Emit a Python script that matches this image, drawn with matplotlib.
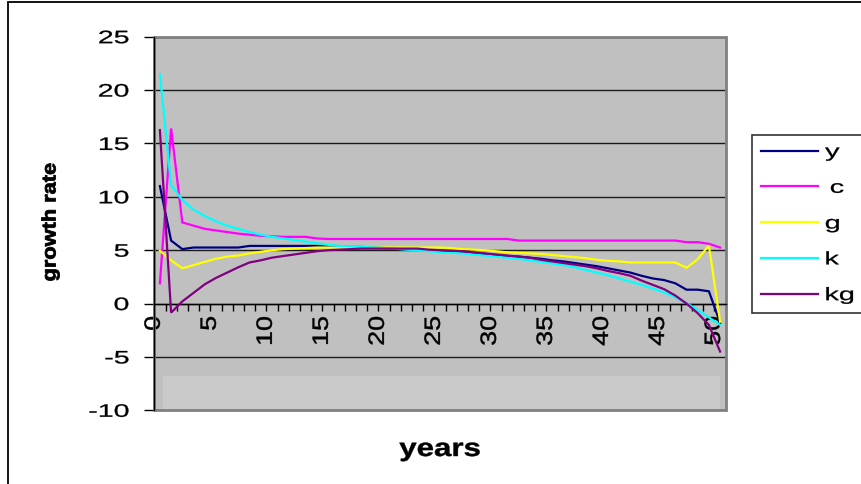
import numpy as np
import matplotlib
matplotlib.use('Agg')
import matplotlib.pyplot as plt
from matplotlib.patheffects import AbstractPathEffect
from matplotlib.transforms import Affine2D
from matplotlib.patches import Rectangle

# ---------------- data ----------------
years = list(range(51))

y_vals = [11.0, 5.9, 5.1, 5.25, 5.25, 5.25, 5.25, 5.25, 5.4, 5.4,
          5.4, 5.4, 5.4, 5.4, 5.4, 5.4, 5.35, 5.3, 5.3, 5.25,
          5.2, 5.15, 5.1, 5.05, 5.0, 4.95, 4.9, 4.85, 4.75, 4.65,
          4.55, 4.45, 4.4, 4.3, 4.2, 4.05, 3.95, 3.8, 3.65, 3.5,
          3.3, 3.1, 2.9, 2.6, 2.35, 2.2, 1.9, 1.3, 1.3, 1.15, -1.8]

c_vals = [1.9, 16.4, 7.6, 7.3, 7.0, 6.85, 6.7, 6.55, 6.45, 6.35,
          6.3, 6.25, 6.25, 6.25, 6.1, 6.05, 6.05, 6.05, 6.05, 6.05,
          6.05, 6.05, 6.05, 6.05, 6.05, 6.05, 6.05, 6.05, 6.05, 6.05,
          6.05, 6.05, 5.9, 5.9, 5.9, 5.9, 5.9, 5.9, 5.9, 5.9,
          5.9, 5.9, 5.9, 5.9, 5.9, 5.9, 5.9, 5.75, 5.75, 5.6, 5.25]

g_vals = [4.95, 4.05, 3.3, 3.6, 3.9, 4.2, 4.4, 4.5, 4.7, 4.85,
          5.0, 5.1, 5.15, 5.2, 5.25, 5.25, 5.25, 5.25, 5.25, 5.25,
          5.25, 5.25, 5.25, 5.25, 5.25, 5.25, 5.2, 5.1, 5.05, 5.0,
          4.9, 4.8, 4.75, 4.7, 4.65, 4.55, 4.45, 4.35, 4.25, 4.1,
          4.0, 3.95, 3.85, 3.85, 3.85, 3.85, 3.85, 3.35, 4.15, 5.45, -1.7]

k_vals = [21.5, 11.1, 9.7, 8.8, 8.2, 7.7, 7.3, 7.0, 6.7, 6.45,
          6.25, 6.1, 5.95, 5.8, 5.65, 5.5, 5.4, 5.35, 5.3, 5.25,
          5.2, 5.15, 5.05, 5.0, 4.9, 4.8, 4.75, 4.7, 4.6, 4.5,
          4.4, 4.3, 4.2, 4.05, 3.9, 3.75, 3.6, 3.4, 3.15, 2.9,
          2.65, 2.35, 2.05, 1.75, 1.4, 1.05, 0.6, 0.05, -0.6, -1.3, -2.0]

kg_vals = [16.25, -0.85, 0.2, 1.0, 1.8, 2.4, 2.9, 3.4, 3.85, 4.05,
           4.3, 4.45, 4.6, 4.75, 4.9, 5.0, 5.05, 5.1, 5.15, 5.15,
           5.15, 5.15, 5.15, 5.15, 5.05, 5.0, 4.95, 4.9, 4.8, 4.7,
           4.6, 4.5, 4.4, 4.3, 4.1, 3.95, 3.8, 3.65, 3.5, 3.3,
           3.05, 2.85, 2.6, 2.15, 1.75, 1.35, 0.75, 0.0, -0.9, -2.0, -4.5]

series_names = ['y', ' c', 'g', 'k', 'kg']
series_colors = ['#000080', '#FF00FF', '#FFFF00', '#00FFFF', '#800080']

x_tick_values = list(range(0, 51, 5))
x_tick_labels = [str(v) for v in x_tick_values]
y_tick_values = list(range(-10, 26, 5))
y_tick_labels = [str(v) for v in y_tick_values]


# ---------------- text stretching effect (Excel-like wide text) ----------------
class Stretch(AbstractPathEffect):
    def __init__(self, sx=1.0, sy=1.0, fx=0.5, fy=0.5, lw=0.0):
        super().__init__()
        self.sx, self.sy, self.fx, self.fy, self.lw = sx, sy, fx, fy, lw

    def draw_path(self, renderer, gc, tpath, affine, rgbFace=None):
        ext = tpath.get_extents()
        cx = ext.x0 + self.fx * ext.width
        cy = ext.y0 + self.fy * ext.height
        t = Affine2D().translate(-cx, -cy).scale(self.sx, self.sy).translate(cx, cy) + affine
        gc0 = renderer.new_gc()
        gc0.copy_properties(gc)
        if self.lw > 0 and rgbFace is not None:
            gc0.set_linewidth(self.lw)
            gc0.set_foreground(rgbFace)
            gc0.set_joinstyle('round')
        renderer.draw_path(gc0, tpath, t, rgbFace)
        gc0.restore()


plt.rcParams['font.family'] = ['Liberation Sans', 'DejaVu Sans']

W, H = 862, 484
fig = plt.figure(figsize=(W / 100, H / 100), dpi=100)
fig.patch.set_facecolor('white')

ax = fig.add_axes([154.3 / W, 1 - 410.3 / H, (725.7 - 154.3) / W, (410.3 - 36.7) / H])
ax.set_facecolor('#C0C0C0')
ax.set_xlim(0, 51)
ax.set_ylim(-10, 25)

# lighter band near the bottom of the plot area
ax.add_patch(Rectangle((0.015, 0.0), 0.975, 0.092, transform=ax.transAxes,
                       facecolor='#CACACA', edgecolor='none', zorder=1.2))

xs = np.array(years) + 0.5
for vals, name, col in zip([y_vals, c_vals, g_vals, k_vals, kg_vals], series_names, series_colors):
    ax.plot(xs, vals, color=col, lw=1.6, label=name, zorder=3, solid_joinstyle='miter')

# grid
ax.set_yticks(y_tick_values, y_tick_labels)
ax.yaxis.grid(True, color='#1a1a1a', lw=1.0)
ax.set_axisbelow(True)

# border of plot area
ax.add_patch(Rectangle((0, 0), 1, 1, transform=ax.transAxes, fill=False,
                       edgecolor='#808080', lw=2.0, zorder=2.4, clip_on=False))
ax.spines['top'].set_visible(False)
ax.spines['right'].set_visible(False)
ax.spines['left'].set_color('black')
ax.spines['left'].set_linewidth(1.0)
ax.spines['left'].set_zorder(2.6)
ax.spines['bottom'].set_position(('data', 0))
ax.spines['bottom'].set_color('black')
ax.spines['bottom'].set_linewidth(1.0)

ax.set_xticks(x_tick_values, x_tick_labels)
ax.set_xticks(list(range(0, 52)), minor=True)
ax.tick_params(axis='x', which='both', direction='out', length=5, width=1,
               color='black', labelsize=16, pad=4)
ax.tick_params(axis='x', which='major', labelrotation=90)
ax.tick_params(axis='y', direction='out', length=7.2, width=1, color='black',
               labelsize=13, pad=11)

# axis titles
fig.text(51 / W, 1 - 222 / H, 'growth rate', rotation=90, ha='center', va='center',
         fontsize=14, fontweight='bold', path_effects=[Stretch(sx=1.12, lw=0.6)])
fig.text(440 / W, 1 - 456 / H, 'years', ha='center', va='baseline',
         fontsize=18, fontweight='bold', path_effects=[Stretch(sx=1.25, lw=0.3)])

# legend
leg = ax.legend(loc='upper left',
                bbox_to_anchor=(752 / W, 1 - 314 / H, 160 / W, 179 / H),
                bbox_transform=fig.transFigure, mode='expand', borderaxespad=0,
                fontsize=13, labelspacing=1.04, borderpad=0.5,
                handlelength=3.16, handletextpad=0.39, fancybox=False,
                framealpha=1, edgecolor='#333333', facecolor='white')
leg.get_frame().set_linewidth(1.2)
for ln in leg.get_lines():
    ln.set_linewidth(1.6)

# outer chart border
fig.add_artist(Rectangle((8 / W, -0.1), 1.5, 1.1 - 2 / H, transform=fig.transFigure,
                         fill=False, edgecolor='black', lw=1.3))

fig.canvas.draw()
for t in ax.get_yticklabels():
    t.set_path_effects([Stretch(sx=1.58, fx=1.0, fy=0.5, lw=0.2)])
for t in ax.get_xticklabels():
    t.set_path_effects([Stretch(sx=1.21, fx=1.0, fy=0.5, lw=0.3)])
for t in leg.get_texts():
    t.set_path_effects([Stretch(sx=1.6, fx=0.0, fy=0.5, lw=0.2)])

fig.savefig('out.png', dpi=100)
